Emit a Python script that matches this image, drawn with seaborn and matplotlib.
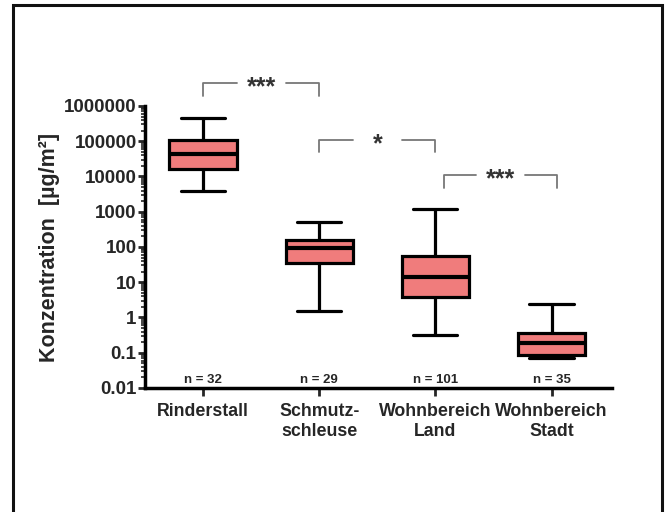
import numpy as np
import pandas as pd
import seaborn as sns
import matplotlib.pyplot as plt
from matplotlib.patches import Rectangle
from matplotlib.ticker import LogLocator, NullFormatter

categories = ["Rinderstall", "Schmutz-\nschleuse", "Wohnbereich\nLand", "Wohnbereich\nStadt"]
# five-number summaries: min, q1, median, q3, max
rinderstall = [3900, 16000, 44000, 110000, 460000]
schmutzschleuse = [1.5, 35, 94, 160, 510]
wohn_land = [0.32, 3.8, 14, 55, 1200]
wohn_stadt = [0.071, 0.087, 0.19, 0.36, 2.4]
n_labels = ["n = 32", "n = 29", "n = 101", "n = 35"]
y_ticks = [0.01, 0.1, 1, 10, 100, 1000, 10000, 100000, 1000000]
y_ticklabels = ["0.01", "0.1", "1", "10", "100", "1000", "10000", "100000", "1000000"]
# significance brackets: left group, right group, stars
brackets = [(0, 1, "***"), (1, 2, "*"), (2.07, 3.05, "***")]
bracket_top = [4.5e6, 1.1e5, 1.1e4]
bracket_leg = [1.9e6, 5e4, 4.7e3]

sns.set_style("white")
plt.rcParams['font.family'] = ['Liberation Sans', 'DejaVu Sans']

df = pd.DataFrame({
    "group": np.repeat(categories, 5),
    "value": rinderstall + schmutzschleuse + wohn_land + wohn_stadt,
})

fig = plt.figure(figsize=(6.67, 5.12), dpi=100)
ax = fig.add_axes([0.2174, 0.2422, 0.7001, 0.5508])

sns.boxplot(data=df, x="group", y="value", order=categories, log_scale=True,
            color="#F07C7C", saturation=1, width=0.58, whis=(0, 100),
            linecolor="black", linewidth=2.3, showfliers=False,
            capwidths=0.38, medianprops={"linewidth": 3}, ax=ax)

ax.set_ylim(0.01, 1e6)
ax.set_xlim(-0.5, 3.52)
ax.set_yticks(y_ticks, labels=y_ticklabels)
ax.yaxis.set_minor_locator(LogLocator(base=10, subs=range(2, 10), numticks=20))
ax.yaxis.set_minor_formatter(NullFormatter())
ax.set_xticks(range(len(categories)), labels=categories)

for lab in ax.get_yticklabels():
    lab.set_fontweight("bold")
    lab.set_fontsize(13.5)
for lab in ax.get_xticklabels():
    lab.set_fontweight("bold")
    lab.set_fontsize(12.8)

ax.tick_params(axis="y", which="major", length=5, width=2, pad=1, left=True)
ax.tick_params(axis="y", which="minor", length=3, width=1.2, left=True)
ax.tick_params(axis="x", length=6, width=2, pad=5, bottom=True)

sns.despine(ax=ax)
for side in ["left", "bottom"]:
    ax.spines[side].set_linewidth(2.5)
    ax.spines[side].set_color("black")

ax.set_xlabel("")
ax.set_ylabel("Konzentration  [µg/m²]", fontsize=15.5, fontweight="bold", labelpad=3)

trans = ax.get_xaxis_transform()
for i, n in enumerate(n_labels):
    ax.text(i, 0.008, n, ha="center", va="bottom", fontsize=9.5, fontweight="bold", transform=trans)

gap = 0.21
for (x0, x1, stars), yt, yb in zip(brackets, bracket_top, bracket_leg):
    xc = (x0 + x1) / 2
    ax.plot([x0, x0, xc - gap], [yb, yt, yt], color="#777777", lw=1.3, clip_on=False)
    ax.plot([xc + gap, x1, x1], [yt, yt, yb], color="#777777", lw=1.3, clip_on=False)
    ax.annotate(stars, (xc, yt), xytext=(0, -8), textcoords="offset points",
                ha="center", va="baseline", fontsize=18, fontweight="bold",
                color="#333333", annotation_clip=False)

fig.add_artist(Rectangle((0.0195, -0.02), 0.973, 1.0105, transform=fig.transFigure,
                         fill=False, lw=2.2, ec="#111111"))

fig.savefig("out.png", dpi=100)
